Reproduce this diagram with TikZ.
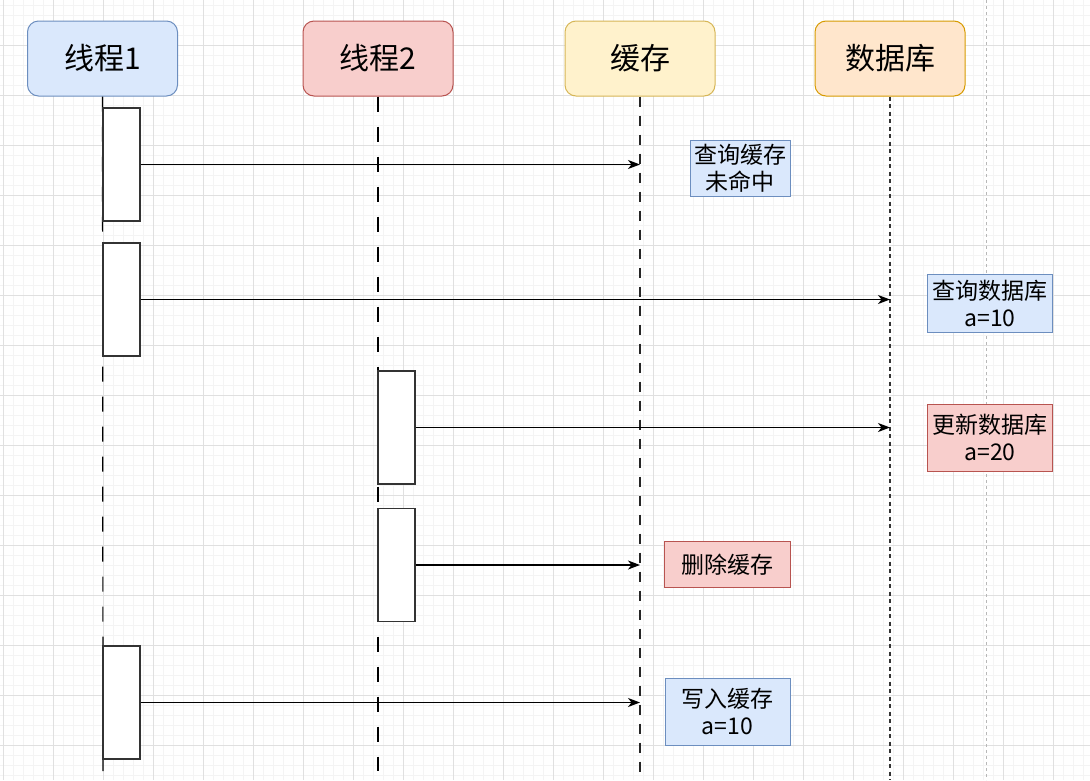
\documentclass[tikz,border=0pt]{standalone}
\usepackage{fontspec}
\setmainfont{Noto Sans CJK SC}
\usetikzlibrary{arrows.meta}
\definecolor{blueF}{HTML}{DAE8FC}
\definecolor{blueD}{HTML}{6C8EBF}
\definecolor{redF}{HTML}{F8CECC}
\definecolor{redD}{HTML}{B85450}
\definecolor{yelF}{HTML}{FFF2CC}
\definecolor{yelD}{HTML}{D6B656}
\definecolor{oraF}{HTML}{FFE6CC}
\definecolor{oraD}{HTML}{D79B00}
\definecolor{gridMinor}{HTML}{F4F4F4}
\definecolor{gridMajor}{HTML}{E0E0E0}
\definecolor{actD}{HTML}{333333}
\tikzset{
  head/.style={rounded corners=11pt, minimum width=150pt, minimum height=75pt, inner sep=0pt,
    line width=1pt, font=\fontsize{30}{36}\selectfont},
  actbox/.style={draw=actD, fill=white, line width=1.3pt, minimum width=37pt, minimum height=113pt, inner sep=0pt},
  lbl/.style={line width=1pt, align=center, inner sep=0pt, font=\fontsize{23}{27}\selectfont},
  threadlife/.style={line width=1.2pt, dash pattern=on 15pt off 15pt},
  cachelife/.style={line width=1.2pt, black!85, dash pattern=on 10pt off 9pt},
  dblife/.style={line width=1.2pt, black!80, dash pattern=on 4pt off 3.5pt},
  msg/.style={line width=1.2pt, -{Stealth[length=12pt, width=9pt, inset=3.5pt]}},
}
\begin{document}
\begin{tikzpicture}[x=1pt, y=-1pt]
\useasboundingbox (0,0) rectangle (1090,780);
\fill[white] (0,0) rectangle (1090,780);
% grid
\foreach \x in {3,13,...,1083} \draw[gridMinor, line width=1pt] (\x,0) -- (\x,780);
\foreach \y in {5,15,...,775} \draw[gridMinor, line width=1pt] (0,\y) -- (1090,\y);
\foreach \x in {3,53,...,1053} \draw[gridMajor, line width=1pt] (\x,0) -- (\x,780);
\foreach \y in {45,95,...,745} \draw[gridMajor, line width=1pt] (0,\y) -- (1090,\y);
% page break
\draw[black!28, line width=1pt, dash pattern=on 3pt off 3pt] (986,0) -- (986,780);

% headers
\node[head, fill=blueF, draw=blueD] (t1) at (102.5,58.5) {线程1};
\node[head, fill=redF, draw=redD] (t2) at (378,58.5) {线程2};
\node[head, fill=yelF, draw=yelD] (ca) at (640,58.5) {缓存};
\node[head, fill=oraF, draw=oraD] (db) at (890,58.5) {数据库};

% lifeline ends
\coordinate (t1end) at (103,771);
\coordinate (t2end) at (378,771);
\coordinate (caend) at (640,780);
\coordinate (dbend) at (890,780);
\draw[threadlife] (t1.south) -- (t1end);
\draw[threadlife] (t2.south) -- (t2end);
\draw[cachelife] (ca.south) -- (caend);
\draw[dblife] (db.south) -- (dbend);

% activation boxes
\node[actbox] (a1) at (121.5,164.5) {};
\node[actbox] (a2) at (121.5,299.5) {};
\node[actbox] (b1) at (396.5,427.5) {};
\node[actbox] (b2) at (396.5,565) {};
\node[actbox] (a3) at (121.5,702.5) {};

% messages
\draw[msg] (a1.east) -- (a1.east -| ca.south);
\draw[msg] (a2.east) -- (a2.east -| db.south);
\draw[msg] (b1.east) -- (b1.east -| db.south);
\draw[msg] (b2.east) -- (b2.east -| ca.south);
\draw[msg] (a3.east) -- (a3.east -| ca.south);

% labels
\node[lbl, fill=blueF, draw=blueD, minimum width=100pt, minimum height=56pt] (l1) at (740,168) {查询缓存\\未命中};
\node[lbl, fill=blueF, draw=blueD, minimum width=125pt, minimum height=58pt] (l2) at (990,303.5) {查询数据库\\a=10};
\node[lbl, fill=redF, draw=redD, minimum width=125pt, minimum height=67pt] (l3) at (990,437.5) {更新数据库\\a=20};
\node[lbl, fill=redF, draw=redD, minimum width=126pt, minimum height=46pt] (l4) at (727.5,564.5) {删除缓存};
\node[lbl, fill=blueF, draw=blueD, minimum width=125pt, minimum height=67pt] (l5) at (727.5,711.5) {写入缓存\\a=10};
\end{tikzpicture}
\end{document}
